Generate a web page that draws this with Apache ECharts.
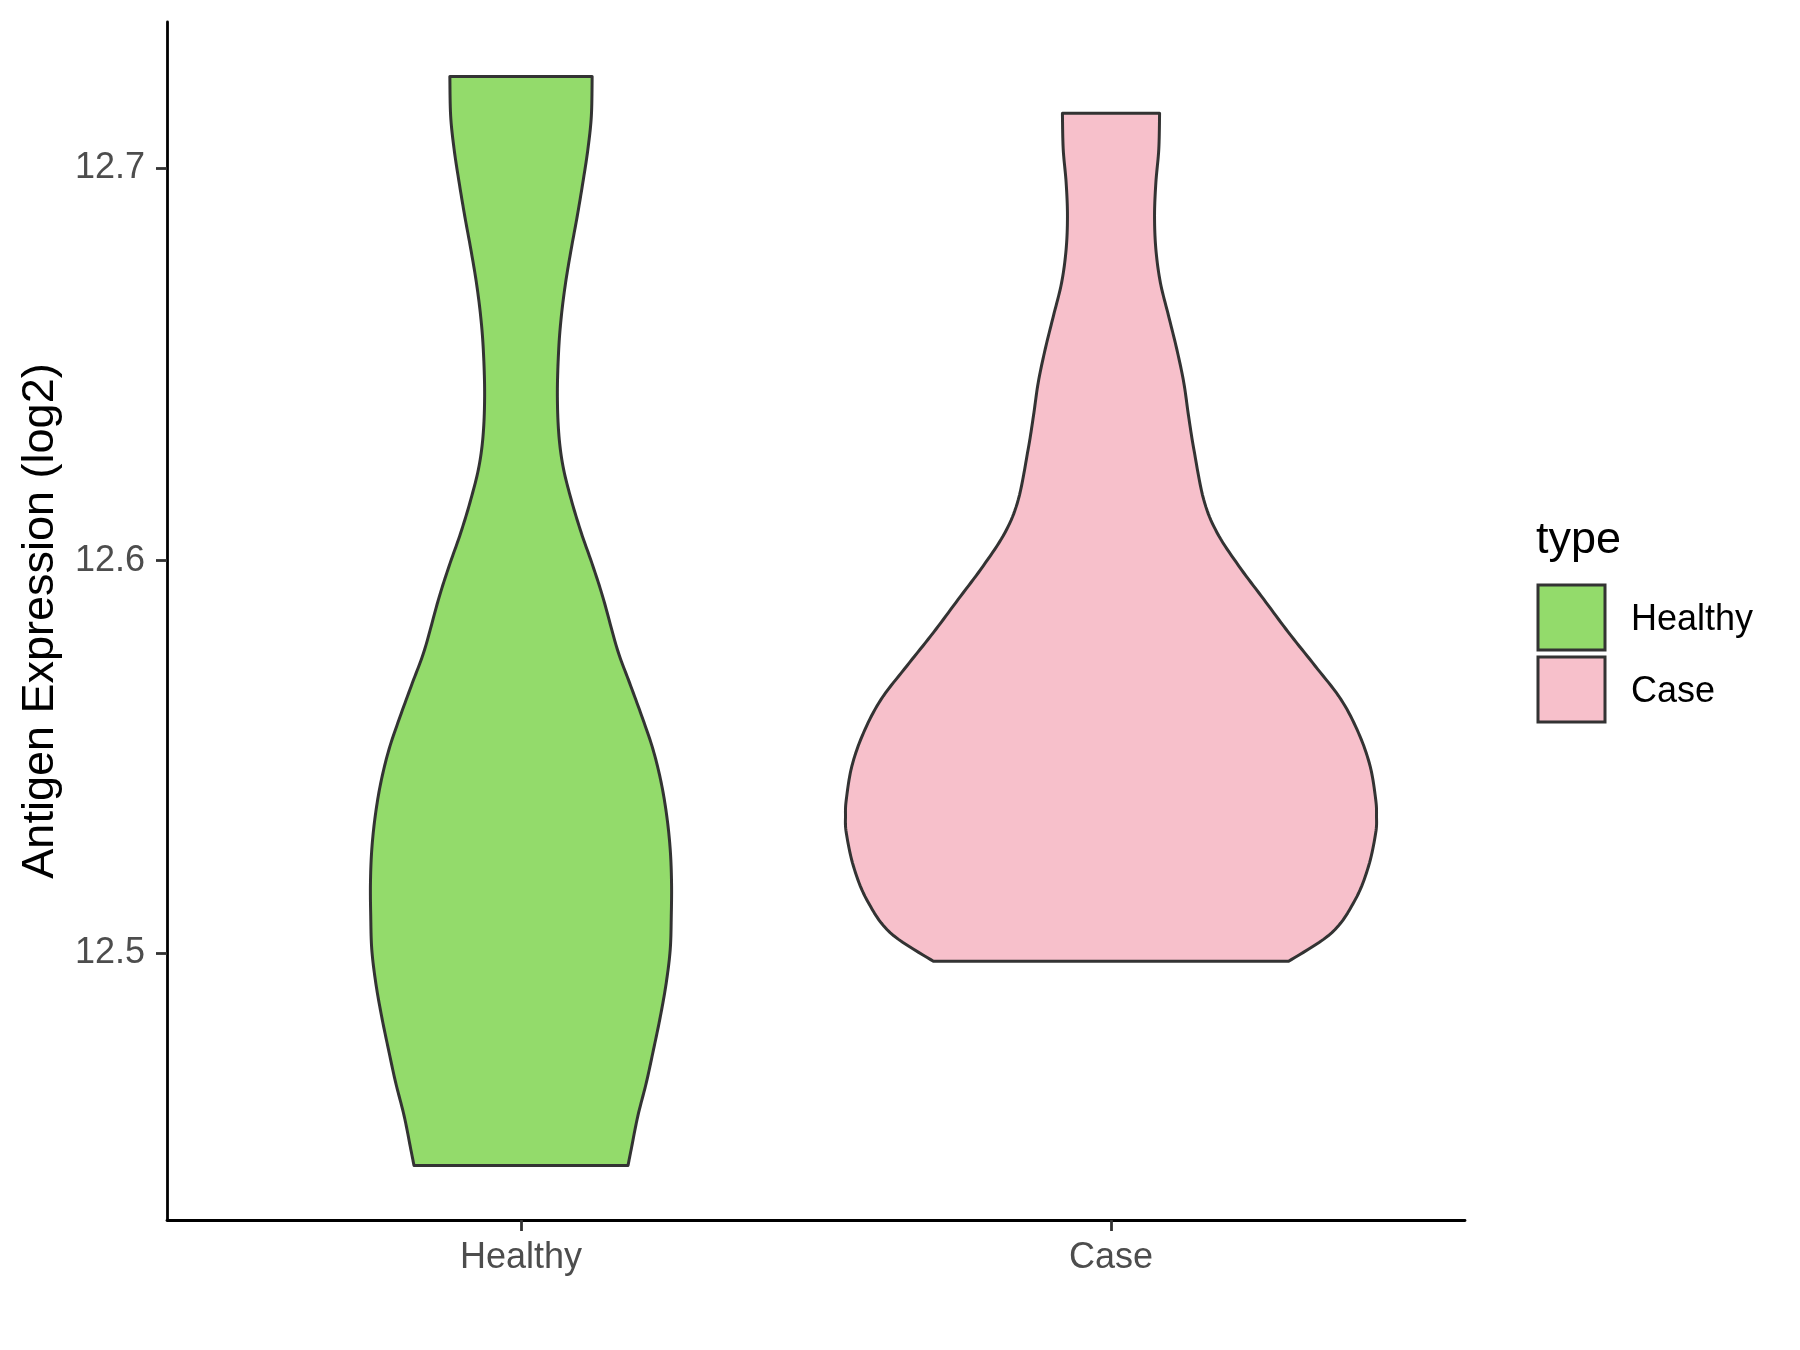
<!DOCTYPE html>
<html>
<head>
<meta charset="utf-8">
<script src="https://cdn.jsdelivr.net/npm/echarts@6/dist/echarts.min.js"></script>
<style>html,body{margin:0;padding:0;background:#fff}#c{width:1800px;height:1350px}</style>
</head>
<body>
<div id="c"></div>
<script>
// ---- data ----
const categories = ['Healthy', 'Case'];
const yTicks = [12.5, 12.6, 12.7];
const yTitle = 'Antigen Expression (log2)';
const legendTitle = 'type';
// violin profiles: expression level and relative density (max = 1)
const healthyLevels = [12.7233,12.7133,12.7048,12.6963,12.6878,12.6793,12.6708,12.6623,12.6538,12.6428,12.6326,12.6241,12.6156,12.6071,12.5986,12.5901,12.5774,12.5689,12.5604,12.5520,12.5435,12.5350,12.5265,12.5180,12.5095,12.5010,12.4925,12.4840,12.4755,12.4671,12.4586,12.4501,12.4460];
const healthyDensity = [0.268,0.265,0.252,0.233,0.212,0.189,0.168,0.152,0.142,0.137,0.142,0.158,0.189,0.227,0.271,0.311,0.363,0.409,0.455,0.497,0.528,0.549,0.562,0.567,0.566,0.562,0.547,0.525,0.499,0.472,0.440,0.415,0.403];
const caseLevels = [12.7139,12.7048,12.6963,12.6878,12.6793,12.6708,12.6623,12.6538,12.6454,12.6369,12.6284,12.6156,12.6072,12.5987,12.5902,12.5817,12.5732,12.5647,12.5562,12.5477,12.5392,12.5350,12.5307,12.5222,12.5137,12.5053,12.4980];
const caseDensity = [0.183,0.180,0.169,0.164,0.169,0.186,0.217,0.248,0.274,0.292,0.312,0.349,0.399,0.481,0.575,0.669,0.769,0.866,0.932,0.976,0.997,1.000,0.997,0.970,0.920,0.832,0.669];

const profiles = [
  {levels: healthyLevels, density: healthyDensity},
  {levels: caseLevels, density: caseDensity}
];
const fills = ['#93DB6B', '#F7C0CB'];
const stroke = '#333333';

// y range with ggplot-style 5% expansion
let lo = Infinity, hi = -Infinity;
profiles.forEach(p => p.levels.forEach(v => { lo = Math.min(lo, v); hi = Math.max(hi, v); }));
const pad = (hi - lo) * 0.05;
const yMin = lo - pad, yMax = hi + pad;

// smooth a pixel-space polyline (Catmull-Rom) for drawing only
function smoothLine(pts, steps) {
  const out = [];
  const n = pts.length;
  for (let i = 0; i < n - 1; i++) {
    const p0 = pts[Math.max(0, i - 1)], p1 = pts[i], p2 = pts[i + 1], p3 = pts[Math.min(n - 1, i + 2)];
    for (let s = 0; s < steps; s++) {
      const t = s / steps, t2 = t * t, t3 = t2 * t;
      out.push([
        0.5 * (2 * p1[0] + (-p0[0] + p2[0]) * t + (2 * p0[0] - 5 * p1[0] + 4 * p2[0] - p3[0]) * t2 + (-p0[0] + 3 * p1[0] - 3 * p2[0] + p3[0]) * t3),
        0.5 * (2 * p1[1] + (-p0[1] + p2[1]) * t + (2 * p0[1] - 5 * p1[1] + 4 * p2[1] - p3[1]) * t2 + (-p0[1] + 3 * p1[1] - 3 * p2[1] + p3[1]) * t3)
      ]);
    }
  }
  out.push(pts[n - 1]);
  return out;
}

const chart = echarts.init(document.getElementById('c'), null, {renderer: 'canvas'});
const FONT = '"Liberation Sans", Arial, sans-serif';

chart.setOption({
  animation: false,
  backgroundColor: '#ffffff',
  grid: {left: 167, right: 335, top: 22, bottom: 130, containLabel: false},
  xAxis: {
    type: 'value', min: 0.4, max: 2.6,
    splitLine: {show: false},
    axisLine: {show: true, lineStyle: {color: '#000', width: 2.8}},
    axisTick: {show: true, length: 11, lineStyle: {color: '#333', width: 2.8}, customValues: [1, 2]},
    axisLabel: {
      customValues: [1, 2], margin: 20, color: '#4D4D4D', fontSize: 36, fontFamily: FONT,
      formatter: v => categories[Math.round(v) - 1] || ''
    }
  },
  yAxis: {
    type: 'value', min: yMin, max: yMax,
    splitLine: {show: false},
    axisLine: {show: true, lineStyle: {color: '#000', width: 2.8}},
    axisTick: {show: true, length: 11, lineStyle: {color: '#333', width: 2.8}, customValues: yTicks},
    axisLabel: {
      customValues: yTicks, margin: 22, color: '#4D4D4D', fontSize: 36, fontFamily: FONT,
      formatter: v => v.toFixed(1)
    },
    name: yTitle, nameLocation: 'middle', nameRotate: 90, nameGap: 104,
    nameTextStyle: {color: '#000', fontSize: 45, fontFamily: FONT}
  },
  series: [{
    type: 'custom',
    data: categories.map((c, i) => [i]),
    renderItem: function (params, api) {
      const i = api.value(0);
      const p = profiles[i];
      const xc = i + 1;
      const right = [], left = [];
      for (let k = 0; k < p.levels.length; k++) right.push(api.coord([xc + p.density[k] * 0.45, p.levels[k]]));
      for (let k = p.levels.length - 1; k >= 0; k--) left.push(api.coord([xc - p.density[k] * 0.45, p.levels[k]]));
      const pts = smoothLine(right, 10).concat(smoothLine(left, 10));
      return {
        type: 'polygon',
        shape: {points: pts},
        style: {fill: fills[i], stroke: stroke, lineWidth: 3, lineJoin: 'round'}
      };
    },
    clip: false
  }],
  graphic: [
    {type: 'text', left: 1536, top: 518, style: {text: legendTitle, fill: '#000', font: '45px ' + FONT}},
    {type: 'rect', shape: {x: 1538, y: 585, width: 67, height: 65}, style: {fill: fills[0], stroke: stroke, lineWidth: 3}},
    {type: 'rect', shape: {x: 1538, y: 657, width: 67, height: 65}, style: {fill: fills[1], stroke: stroke, lineWidth: 3}},
    {type: 'text', x: 1631, y: 620, style: {text: categories[0], fill: '#000', font: '36px ' + FONT, verticalAlign: 'middle'}},
    {type: 'text', x: 1631, y: 692, style: {text: categories[1], fill: '#000', font: '36px ' + FONT, verticalAlign: 'middle'}}
  ]
});
</script>
</body>
</html>
